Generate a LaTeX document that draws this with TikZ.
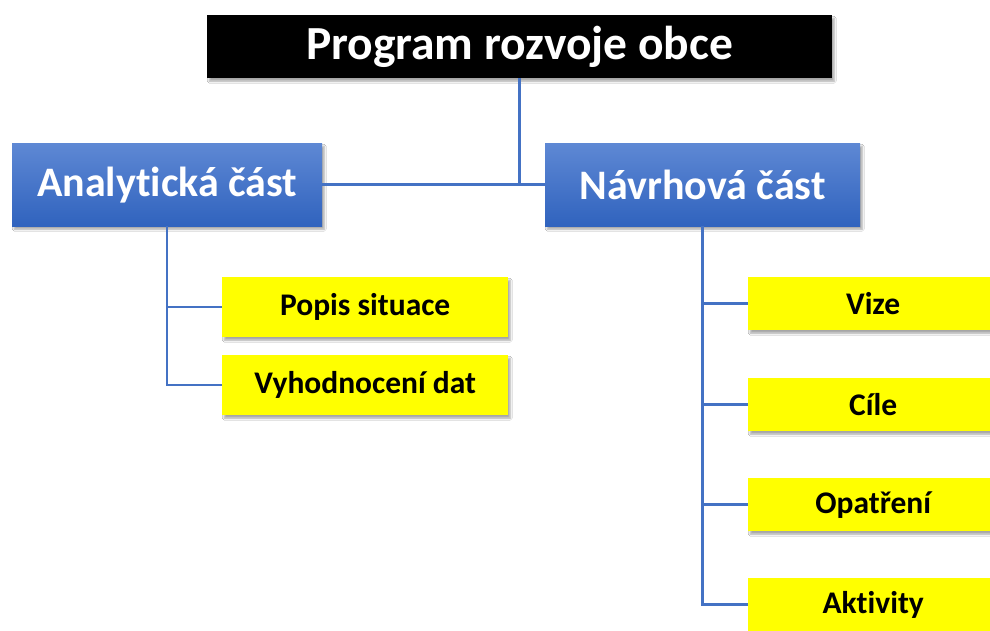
\documentclass[tikz,border=0pt]{standalone}
\usepackage{fontspec}
\setmainfont{Carlito}[Ligatures=CommonOff]
\usetikzlibrary{shadows.blur}

\begin{document}
\begin{tikzpicture}[x=1pt, y=-1pt,
  box/.style={anchor=north west, inner sep=0pt, font=\bfseries,
    blur shadow={shadow xshift=2pt, shadow yshift=-3pt, shadow blur steps=6, shadow opacity=35}},
  titlebox/.style={box, fill=black, text=white, minimum width=625pt, minimum height=63pt,
    font=\bfseries\fontsize{47.5}{52}\selectfont},
  partbox/.style={box, top color=topblue, bottom color=botblue, text=white,
    minimum width=310pt, minimum height=83pt, font=\bfseries\fontsize{42}{46}\selectfont},
  itembox/.style={box, fill=itemyellow, text=black, minimum height=60pt,
    font=\bfseries\fontsize{31.5}{35}\selectfont},
  link/.style={draw=linkblue, line width=2.5pt}]
  \definecolor{topblue}{RGB}{94,136,212}
  \definecolor{botblue}{RGB}{48,99,190}
  \definecolor{linkblue}{RGB}{68,114,196}
  \definecolor{itemyellow}{RGB}{255,255,0}
  \clip (0, 0) rectangle (990, 630);
  \fill [white] (0, 0) rectangle (990, 630);

  \node [titlebox] (prog) at (207, 15) {Program rozvoje obce};
  \node [partbox] (anal) at (12, 143) {Analytická část};
  \node [partbox, minimum width=315pt] (navr) at (545, 143) {Návrhová část};

  \node [itembox, minimum width=286pt] (popis) at (222, 277) {Popis situace};
  \node [itembox, minimum width=286pt] (vyhod) at (222, 355) {Vyhodnocení dat};

  \node [itembox, minimum width=250pt, minimum height=53pt] (vize) at (748, 277) {Vize};
  \node [itembox, minimum width=250pt, minimum height=53pt] (cile) at (748, 378) {Cíle};
  \node [itembox, minimum width=250pt, minimum height=53pt] (opatr) at (748, 478) {Opatření};
  \node [itembox, minimum width=250pt, minimum height=53pt] (aktiv) at (748, 578) {Aktivity};

  % tree lines
  \draw [link] (prog.south) -- (prog.south |- anal.east);
  \draw [link] (anal.east) -- (navr.west);

  \draw [link] (anal.south) |- (popis.west);
  \draw [link] (anal.south) |- (vyhod.west);

  \draw [link] (navr.south) |- (vize.west);
  \draw [link] (navr.south) |- (cile.west);
  \draw [link] (navr.south) |- (opatr.west);
  \draw [link] (navr.south) |- (aktiv.west);
\end{tikzpicture}
\end{document}
